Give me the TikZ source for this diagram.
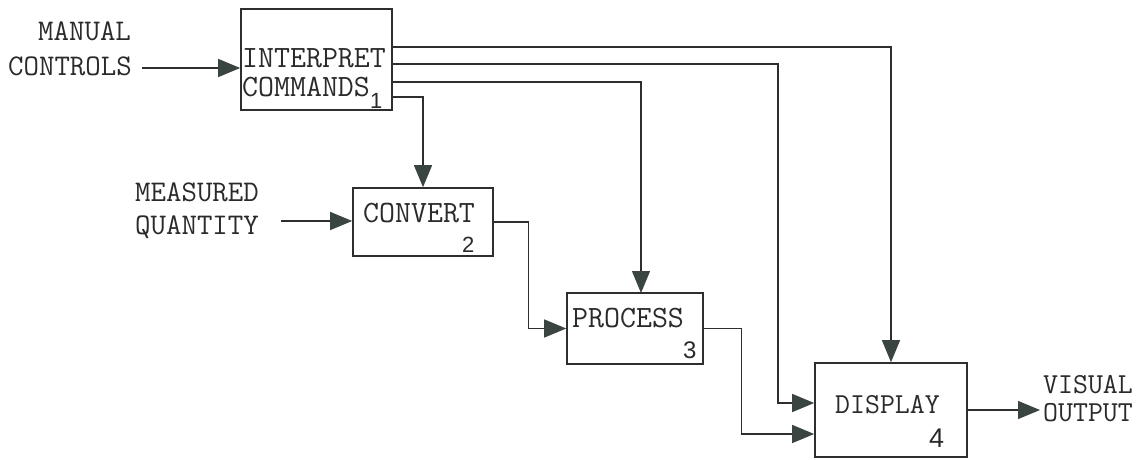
\documentclass[tikz,border=0pt]{standalone}
\usepackage{fontspec}
\newfontfamily\digitfont{Liberation Sans}
\usetikzlibrary{arrows.meta}
\definecolor{linec}{HTML}{2E2E2E}
\definecolor{tipc}{HTML}{3A4441}
\definecolor{textc}{HTML}{2A2A2A}
\begin{document}
\begin{tikzpicture}[x=1pt,y=-1pt,
  box/.style={draw=linec, line width=1.6pt, inner sep=0pt},
  boxtxt/.style={font=\ttfamily\fontsize{31}{34}\selectfont, text=textc, inner sep=0pt, anchor=base west},
  lbl/.style={font=\ttfamily\fontsize{30}{33}\selectfont, text=textc, inner sep=0pt, anchor=base west},
  num/.style={font=\digitfont\fontsize{22}{24}\selectfont, text=textc, inner sep=0pt, anchor=base west},
  conn/.style={draw=linec, line width=1.3pt},
  arr/.style={conn, -{Triangle[length=22pt,width=18pt,color=tipc]}}]
\useasboundingbox (0,0) rectangle (1143,460);
% boxes
\node[box, minimum width=151pt, minimum height=101pt] (int) at (316.5,59.5) {};
\node[box, minimum width=140pt, minimum height=68pt] (conv) at (423,222) {};
\node[box, minimum width=136pt, minimum height=71pt] (proc) at (635,328.5) {};
\node[box, minimum width=152pt, minimum height=94pt] (disp) at (891,410) {};
% box texts
\node[boxtxt] (t1a) at (242,67) {INTERPRET};
\node[boxtxt] (t1b) at (242,96) {COMMANDS};
\node[num] (n1) at (370,108) {1};
\node[boxtxt] (t2) at (363,222) {CONVERT};
\node[num] (n2) at (462,252) {2};
\node[boxtxt] (t3) at (572,327) {PROCESS};
\node[num, font=\digitfont\fontsize{24}{26}\selectfont] (n3) at (683,358) {3};
\node[boxtxt, font=\ttfamily\fontsize{29}{32}\selectfont] (t4) at (835,413) {DISPLAY};
\node[num, font=\digitfont\fontsize{27}{30}\selectfont] (n4) at (929,447) {4};
% outside labels
\node[lbl] (m1) at (38,41) {MANUAL};
\node[lbl] (m2) at (8,75) {CONTROLS};
\node[lbl] (q1) at (135,201) {MEASURED};
\node[lbl] (q2) at (135,234) {QUANTITY};
\node[lbl, font=\ttfamily\fontsize{29}{32}\selectfont] (v1) at (1043,393) {VISUAL};
\node[lbl, font=\ttfamily\fontsize{29}{32}\selectfont] (v2) at (1043,421) {OUTPUT};
% connector end coordinates
\coordinate (mc) at (142,68);
\coordinate (mq) at (281,221);
\coordinate (i1) at (int.east |- 0,47);
\coordinate (i2) at (int.east |- 0,64);
\coordinate (i3) at (int.east |- 0,82);
\coordinate (i4) at (int.east |- 0,97);
\coordinate (ptop) at (641,293);
\coordinate (d1) at (disp.west |- 0,403);
\coordinate (d2) at (disp.west |- 0,434);
\coordinate (b2) at (778,403);
\coordinate (vo) at (1040,410);
% connectors
\draw[arr] (mc) -- (mc -| int.west);
\draw[arr] (mq) -- (mq -| conv.west);
\draw[arr] (i1) -| (disp.north);
\draw[arr] (i2) -| (b2) -- (d1);
\draw[arr] (i3) -| (ptop);
\draw[arr] (i4) -| (conv.north);
\draw[arr] (conv.east) -- ++(35,0) |- (proc.west);
\draw[arr] (proc.east) -- ++(38,0) |- (d2);
\draw[arr] (disp.east) -- (vo);
\end{tikzpicture}
\end{document}
